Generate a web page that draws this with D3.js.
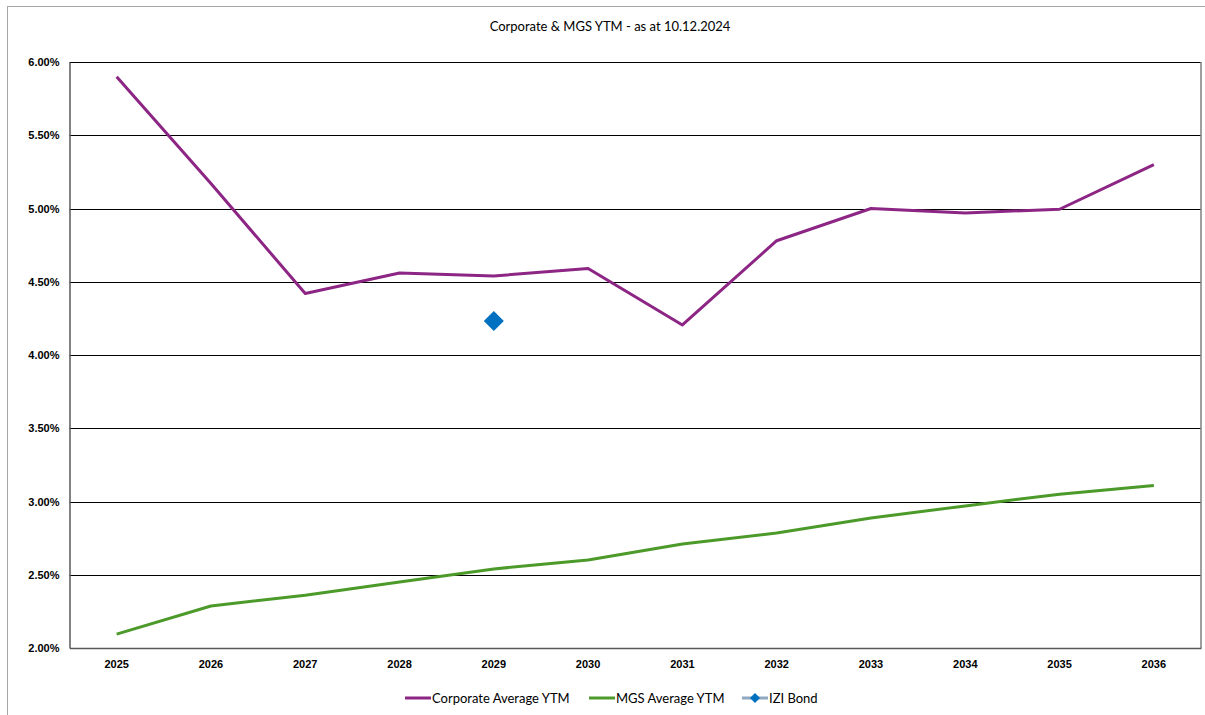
<!DOCTYPE html>
<html>
<head>
<meta charset="utf-8">
<script src="https://cdn.jsdelivr.net/npm/d3@7"></script>
<style>
  body { margin: 0; background: #fff; }
  svg { font-family: Lato, 'Open Sans', sans-serif; }
</style>
</head>
<body>
<svg></svg>
<script>
// Data
const years = ['2025','2026','2027','2028','2029','2030','2031','2032','2033','2034','2035','2036']
const corporateYTM = [5.90, 5.17, 4.42, 4.56, 4.54, 4.59, 4.205, 4.78, 5.00, 4.97, 4.995, 5.30]
const mgsYTM = [2.095, 2.287, 2.36, 2.45, 2.54, 2.60, 2.71, 2.785, 2.887, 2.97, 3.05, 3.11]
const iziBond = [{year: '2029', value: 4.232}]
const yTicks = [2.0, 2.5, 3.0, 3.5, 4.0, 4.5, 5.0, 5.5, 6.0]
const legendItems = ['Corporate Average YTM', 'MGS Average YTM', 'IZI Bond']

const width = 1205
const height = 715
const svg = d3.select('svg').attr('width', width).attr('height', height)

const plotLeft = 69.5, plotRight = 1201, plotTop = 62, plotBottom = 648

// outer border
svg.append('rect')
    .attr('x', 7.5).attr('y', 6.5)
    .attr('width', 1210).attr('height', 730)
    .attr('fill', 'none').attr('stroke', '#a6a6a6')

svg.append('text')
    .attr('x', 610).attr('y', 31)
    .attr('text-anchor', 'middle')
    .style('font-size', '13px')
    .text('Corporate & MGS YTM - as at 10.12.2024')

const xScale = d3.scaleBand().domain(years).range([plotLeft, plotRight])
const yScale = d3.scaleLinear().domain([2, 6]).range([plotBottom, plotTop])
const xc = (y) => xScale(y) + xScale.bandwidth() / 2

// gridlines
svg.append('g')
    .selectAll('line')
    .data(yTicks.slice(1))
    .enter()
    .append('line')
    .attr('x1', plotLeft).attr('x2', plotRight)
    .attr('y1', (d) => Math.round(yScale(d)) + 0.5)
    .attr('y2', (d) => Math.round(yScale(d)) + 0.5)
    .attr('stroke', '#000')
    .attr('stroke-width', 1)

// plot border right
svg.append('line').attr('x1', plotRight).attr('x2', plotRight).attr('y1', plotTop).attr('y2', plotBottom)
    .attr('stroke', '#7f7f7f').attr('stroke-width', 1.5)

// y axis
const yAxis = d3.axisLeft(yScale)
    .tickValues(yTicks)
    .tickSize(0)
    .tickPadding(10)
    .tickFormat((d) => d.toFixed(2) + '%')
svg.append('g')
    .attr('transform', 'translate(' + plotLeft + ', 0)')
    .call(yAxis)
    .call((g) => g.select('.domain').attr('stroke', '#595959').attr('stroke-width', 1.5))
    .selectAll('text')
    .style('font-size', '11px')
    .style('font-weight', 'bold')
    .attr('fill', '#000')

// x axis
const xAxis = d3.axisBottom(xScale).tickSize(0).tickPadding(12)
svg.append('g')
    .attr('transform', 'translate(0, ' + plotBottom + ')')
    .call(xAxis)
    .call((g) => g.select('.domain').attr('stroke', '#595959').attr('stroke-width', 1.5))
    .selectAll('text')
    .style('font-size', '11px')
    .style('font-weight', 'bold')
    .attr('fill', '#000')

// lines
const line = d3.line()
    .x((d, i) => xc(years[i]))
    .y((d) => yScale(d))

svg.append('path')
    .datum(corporateYTM)
    .attr('d', line)
    .attr('fill', 'none')
    .attr('stroke', '#8c2584')
    .attr('stroke-width', 3)
    .attr('stroke-linejoin', 'round')

svg.append('path')
    .datum(mgsYTM)
    .attr('d', line)
    .attr('fill', 'none')
    .attr('stroke', '#4c9a2a')
    .attr('stroke-width', 3)
    .attr('stroke-linejoin', 'round')

const diamond = d3.symbol().type(d3.symbolSquare).size(200)
svg.selectAll('.izi')
    .data(iziBond)
    .enter()
    .append('path')
    .attr('class', 'izi')
    .attr('d', diamond)
    .attr('transform', (d) => 'translate(' + xc(d.year) + ',' + yScale(d.value) + ') rotate(45)')
    .attr('fill', '#0070c0')

// legend
const legendX = [405, 589, 742]
const legendColors = ['#8c2584', '#4c9a2a', '#8ea9c1']
const legend = svg.append('g').attr('transform', 'translate(0, 698)')
legendItems.forEach((name, i) => {
    legend.append('line')
        .attr('x1', legendX[i]).attr('x2', legendX[i] + 26)
        .attr('y1', 0).attr('y2', 0)
        .attr('stroke', legendColors[i]).attr('stroke-width', 3)
    if (i === 2) {
        legend.append('path')
            .attr('d', d3.symbol().type(d3.symbolSquare).size(50))
            .attr('transform', 'translate(' + (legendX[i] + 13) + ',0) rotate(45)')
            .attr('fill', '#0070c0')
    }
    legend.append('text')
        .attr('x', legendX[i] + 27)
        .attr('y', 4.5)
        .style('font-size', '13px')
        .text(name)
})
</script>
</body>
</html>
